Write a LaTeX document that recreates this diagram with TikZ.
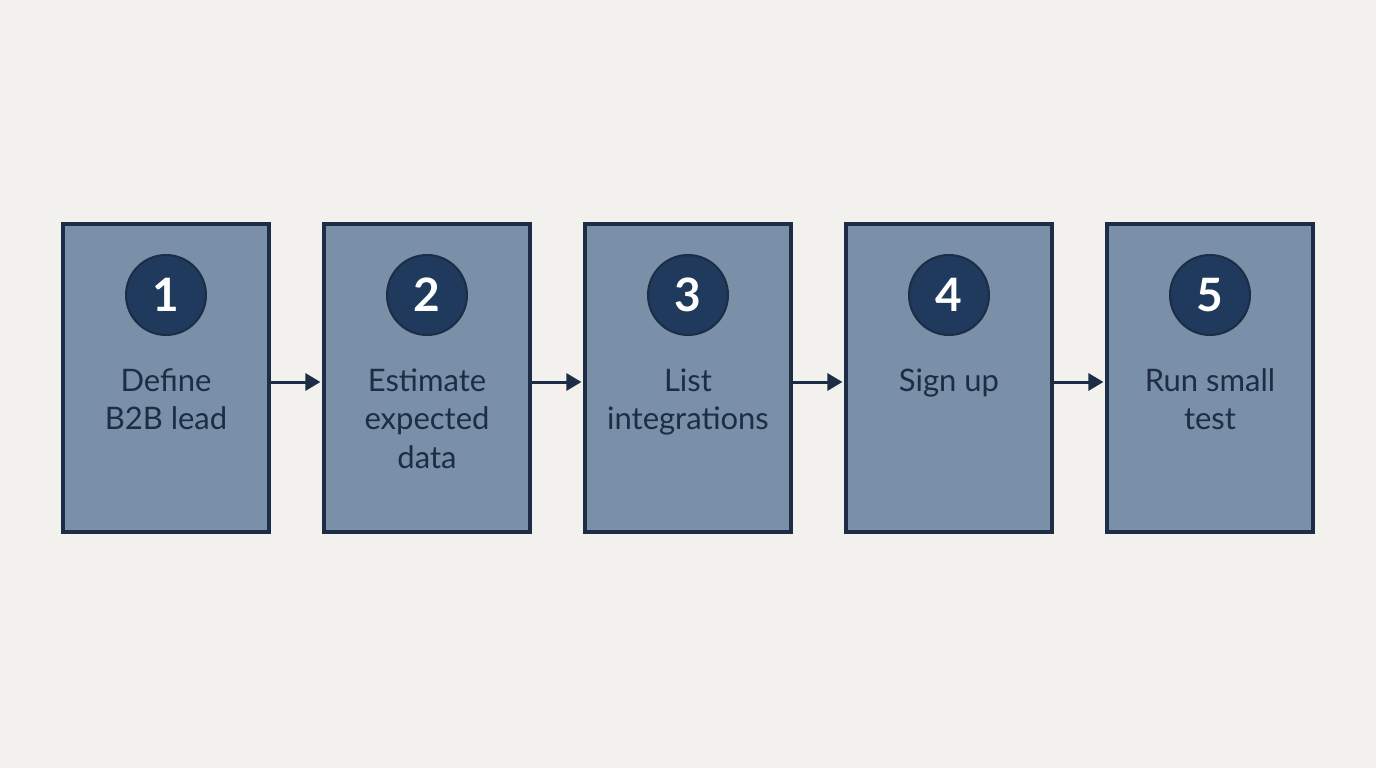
\documentclass[tikz,border=0pt]{standalone}
\usepackage{fontspec}
\setmainfont{Lato}
\usetikzlibrary{arrows.meta}
\definecolor{bg}{HTML}{F2F1ED}
\definecolor{boxfill}{HTML}{7A8FA8}
\definecolor{ink}{HTML}{1C2D45}
\definecolor{disc}{HTML}{1F3A5C}
\tikzset{
  stepbox/.style={draw=ink, line width=3.2pt, fill=boxfill, minimum width=206pt, minimum height=308pt, inner sep=0pt},
  numdisc/.style={circle, fill=disc, draw=ink, line width=2pt, minimum size=80pt, inner sep=0pt, text=white, font=\fontsize{46}{46}\selectfont\bfseries},
  label/.style={text=ink, align=center, font=\fontsize{31}{38.5}\selectfont, anchor=north},
  flow/.style={draw=ink, line width=3pt, -{Triangle[length=15pt,width=17pt]}}
}
\begin{document}
\begin{tikzpicture}[x=1pt,y=-1pt]
\fill[bg] (0,0) rectangle (1376,768);
\useasboundingbox (0,0) rectangle (1376,768);
\foreach \i/\t in {1/{Define\\B2B lead},2/{Estimate\\expected\\data},3/{List\\integrations},4/{Sign up},5/{Run small\\test}}{
  \pgfmathsetmacro{\cx}{166+(\i-1)*261}
  \node[stepbox] (b\i) at (\cx,378) {};
  \node[numdisc] (n\i) at (\cx,295) {\i};
  \node[label] (t\i) at (\cx,365) {\t};
}
\foreach \a/\b in {1/2,2/3,3/4,4/5}{
  \draw[flow] ([yshift=-4pt]b\a.east) -- ([yshift=-4pt,xshift=-2pt]b\b.west);
}
\end{tikzpicture}
\end{document}
